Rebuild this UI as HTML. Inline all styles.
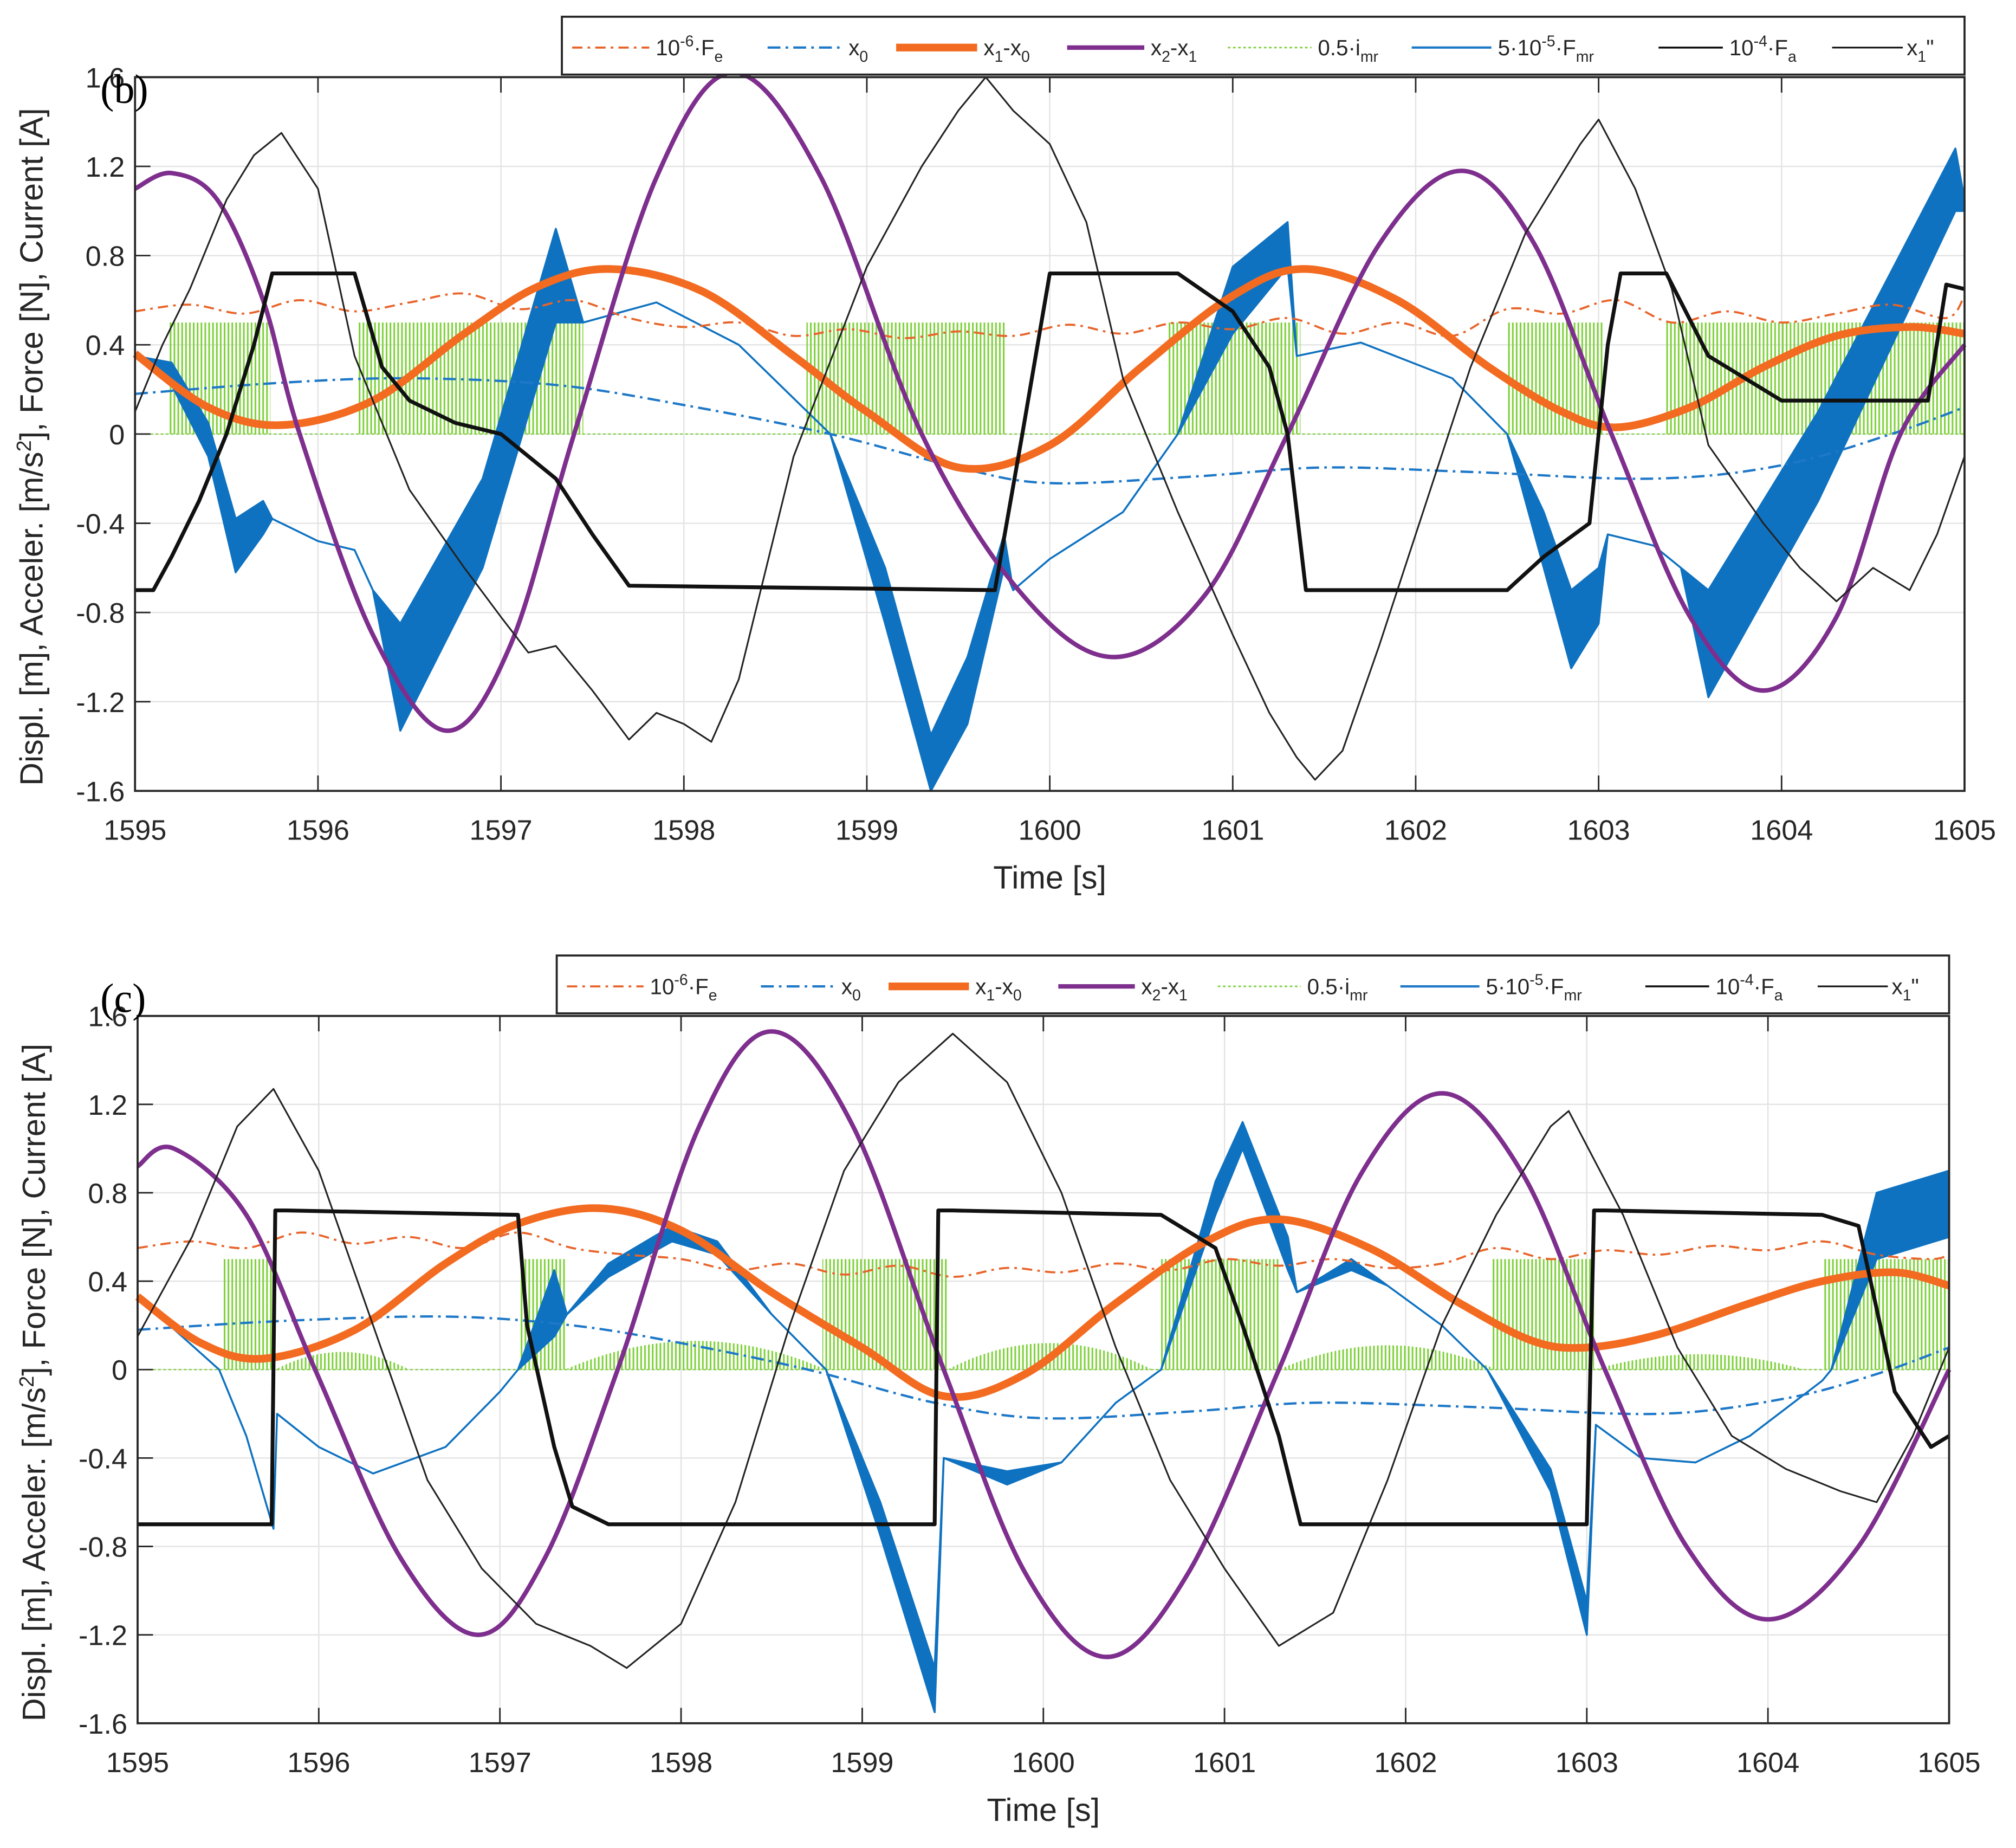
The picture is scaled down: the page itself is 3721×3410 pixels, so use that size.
<!DOCTYPE html>
<html><head><meta charset="utf-8"><style>
html,body{margin:0;padding:0;background:#fff;}
svg{display:block;}
text{font-family:"Liberation Sans",Arial,sans-serif;fill:#262626;}
</style></head><body>
<svg id="chart" xmlns="http://www.w3.org/2000/svg" width="3721" height="3410" viewBox="0 0 1568 1437">
<defs>
<pattern id="hatch" patternUnits="userSpaceOnUse" width="3" height="4">
<rect x="0" y="0" width="1.3" height="4" fill="#7fd13b"/>
</pattern>
</defs>
</svg>
<script>
// ---------- Panel (b) data ----------
const bPurpleT=[1595,1595.2,1595.45,1595.7,1595.9,1596.3,1596.7,1597.05,1597.4,1597.85,1598.27,1598.75,1599.3,1599.85,1600.35,1600.85,1601.3,1601.8,1602.25,1602.65,1603.07,1603.5,1603.9,1604.3,1604.65,1605];
const bPurpleV=[1.10,1.17,1.05,0.6,0.0,-0.9,-1.33,-0.95,0.0,1.15,1.62,1.15,0.0,-0.72,-1.0,-0.72,0.0,0.85,1.18,0.85,0.0,-0.82,-1.15,-0.82,0.0,0.4];
const bOrangeT=[1595,1595.4,1595.8,1596.3,1596.8,1597.2,1597.6,1598.1,1598.6,1599.0,1599.5,1600.0,1600.5,1601.0,1601.4,1601.9,1602.4,1602.8,1603.1,1603.5,1603.9,1604.3,1604.7,1605];
const bOrangeV=[0.36,0.12,0.04,0.15,0.45,0.66,0.74,0.64,0.35,0.1,-0.15,-0.05,0.3,0.62,0.74,0.6,0.3,0.1,0.03,0.12,0.3,0.44,0.48,0.45];
const bX0T=[1595,1595.8,1596.5,1597.3,1598.0,1598.8,1599.5,1600.0,1600.8,1601.5,1602.3,1603.3,1604.0,1604.6,1605];
const bX0V=[0.18,0.23,0.25,0.22,0.13,0.0,-0.15,-0.22,-0.19,-0.15,-0.17,-0.2,-0.14,0.0,0.12];
const bFeT=[1595,1595.3,1595.6,1595.9,1596.2,1596.5,1596.8,1597.1,1597.4,1597.7,1598.0,1598.3,1598.6,1598.9,1599.2,1599.5,1599.8,1600.1,1600.4,1600.7,1601.0,1601.3,1601.6,1601.9,1602.2,1602.5,1602.8,1603.1,1603.4,1603.7,1604.0,1604.3,1604.6,1604.9,1605];
const bFeV=[0.55,0.58,0.54,0.6,0.55,0.59,0.63,0.56,0.6,0.52,0.48,0.5,0.44,0.47,0.43,0.46,0.44,0.49,0.45,0.5,0.47,0.52,0.45,0.5,0.44,0.56,0.54,0.6,0.5,0.55,0.5,0.54,0.58,0.52,0.62];
const bImrStart=[1595.18,1596.22,1598.67,1600.64,1602.5,1603.37];
const bImrEnd=[1595.74,1597.45,1599.76,1601.37,1603.03,1605];
const bImrHigh=[0.5,0.5,0.5,0.5,0.5,0.5];
const bFaT=[1595,1595.1,1595.2,1595.35,1595.5,1595.65,1595.75,1596.2,1596.35,1596.5,1596.75,1597.0,1597.3,1597.5,1597.7,1599.7,1599.85,1600.0,1600.7,1601.0,1601.2,1601.3,1601.4,1602.5,1602.7,1602.95,1603.05,1603.12,1603.37,1603.6,1604.0,1604.8,1604.9,1605];
const bFaV=[-0.7,-0.7,-0.55,-0.3,0.0,0.4,0.72,0.72,0.3,0.15,0.05,0.0,-0.2,-0.45,-0.68,-0.7,0.0,0.72,0.72,0.55,0.3,0.0,-0.7,-0.7,-0.55,-0.4,0.4,0.72,0.72,0.35,0.15,0.15,0.67,0.65];
const bFmrT=[1595,1595.2,1595.4,1595.55,1595.7,1595.75,1596.0,1596.2,1596.3,1596.45,1596.9,1597.3,1597.45,1597.85,1598.3,1598.8,1599.1,1599.35,1599.55,1599.75,1599.8,1600.0,1600.4,1600.7,1601.0,1601.3,1601.35,1601.7,1602.2,1602.5,1602.7,1602.85,1603.0,1603.05,1603.3,1603.45,1603.6,1604.2,1604.95,1605];
const bFmrLo=[0.35,0.22,-0.1,-0.62,-0.45,-0.38,-0.48,-0.52,-0.7,-1.33,-0.6,0.5,0.5,0.59,0.4,0.0,-0.85,-1.6,-1.3,-0.6,-0.7,-0.56,-0.35,0.0,0.45,0.75,0.35,0.41,0.25,0.0,-0.6,-1.05,-0.85,-0.45,-0.5,-0.6,-1.18,-0.3,1.0,1.0];
const bFmrHi=[0.35,0.32,0.05,-0.38,-0.3,-0.38,-0.48,-0.52,-0.7,-0.85,-0.2,0.92,0.5,0.59,0.4,0.0,-0.6,-1.35,-1.0,-0.45,-0.7,-0.56,-0.35,0.0,0.75,0.95,0.35,0.41,0.25,0.0,-0.35,-0.7,-0.6,-0.45,-0.5,-0.6,-0.7,0.1,1.28,1.05];
const bAccT=[1595,1595.15,1595.3,1595.5,1595.65,1595.8,1596.0,1596.2,1596.5,1596.8,1597.0,1597.15,1597.3,1597.5,1597.7,1597.85,1598.0,1598.15,1598.3,1598.6,1599.0,1599.3,1599.5,1599.65,1599.8,1600.0,1600.2,1600.4,1600.7,1601.0,1601.2,1601.35,1601.45,1601.6,1601.8,1602.0,1602.3,1602.6,1602.9,1603.0,1603.2,1603.4,1603.6,1603.9,1604.1,1604.3,1604.5,1604.7,1604.85,1605];
const bAccV=[0.1,0.4,0.65,1.05,1.25,1.35,1.1,0.35,-0.25,-0.6,-0.82,-0.98,-0.95,-1.15,-1.37,-1.25,-1.3,-1.38,-1.1,-0.1,0.75,1.2,1.45,1.6,1.45,1.3,0.95,0.25,-0.35,-0.9,-1.25,-1.45,-1.55,-1.42,-0.95,-0.45,0.3,0.9,1.3,1.41,1.1,0.65,-0.05,-0.4,-0.6,-0.75,-0.6,-0.7,-0.45,-0.1];

// ---------- Panel (c) data ----------
const cPurpleT=[1595,1595.2,1595.6,1595.98,1596.45,1596.88,1597.25,1597.65,1598.1,1598.5,1598.95,1599.45,1599.9,1600.35,1600.8,1601.3,1601.75,1602.2,1602.65,1603.1,1603.55,1604.0,1604.5,1605];
const cPurpleV=[0.92,1.0,0.7,0.0,-0.85,-1.2,-0.85,0.0,1.1,1.53,1.1,0.0,-0.92,-1.3,-0.92,0.0,0.88,1.25,0.88,0.0,-0.8,-1.13,-0.8,0.0];
const cOrangeT=[1595,1595.35,1595.7,1596.2,1596.7,1597.1,1597.55,1598.0,1598.5,1599.0,1599.45,1599.9,1600.4,1600.9,1601.3,1601.8,1602.3,1602.7,1603.0,1603.4,1603.9,1604.3,1604.7,1605];
const cOrangeV=[0.33,0.12,0.05,0.18,0.48,0.66,0.73,0.63,0.35,0.1,-0.12,-0.02,0.3,0.58,0.68,0.55,0.3,0.13,0.1,0.16,0.3,0.4,0.44,0.38];
const cX0T=[1595,1595.8,1596.7,1597.4,1598.0,1598.7,1599.4,1600.0,1600.8,1601.5,1602.4,1603.4,1604.1,1604.6,1605];
const cX0V=[0.18,0.22,0.24,0.2,0.12,0.0,-0.15,-0.22,-0.19,-0.15,-0.17,-0.2,-0.13,-0.02,0.1];
const cFeT=[1595,1595.3,1595.6,1595.9,1596.2,1596.5,1596.8,1597.1,1597.4,1597.7,1598.0,1598.3,1598.6,1598.9,1599.2,1599.5,1599.8,1600.1,1600.4,1600.7,1601.0,1601.3,1601.6,1601.9,1602.2,1602.5,1602.8,1603.1,1603.4,1603.7,1604.0,1604.3,1604.6,1604.9,1605];
const cFeV=[0.55,0.58,0.55,0.62,0.57,0.6,0.55,0.62,0.55,0.52,0.5,0.45,0.48,0.43,0.47,0.42,0.46,0.44,0.48,0.45,0.5,0.47,0.5,0.46,0.48,0.55,0.5,0.54,0.52,0.56,0.54,0.58,0.52,0.5,0.52];
const cImrStart=[1595.47,1597.11,1598.78,1600.65,1602.47,1604.31];
const cImrEnd=[1595.76,1597.36,1599.47,1601.3,1603.04,1605];
const cImrHigh=[0.5,0.5,0.5,0.5,0.5,0.5];
const cHumpStart=[1595.76,1597.36,1599.47,1601.3,1603.04];
const cHumpEnd=[1596.5,1598.8,1600.6,1602.5,1604.2];
const cHumpHigh=[0.08,0.13,0.12,0.11,0.07];
const cFaT=[1595,1595.74,1595.76,1595.82,1597.1,1597.15,1597.3,1597.4,1597.6,1599.4,1599.42,1599.5,1600.65,1600.95,1601.1,1601.3,1601.42,1603.0,1603.04,1603.1,1604.3,1604.5,1604.7,1604.9,1605];
const cFaV=[-0.7,-0.7,0.72,0.72,0.7,0.2,-0.35,-0.62,-0.7,-0.7,0.72,0.72,0.7,0.55,0.2,-0.3,-0.7,-0.7,0.72,0.72,0.7,0.65,-0.1,-0.35,-0.3];
const cFmrT=[1595,1595.45,1595.6,1595.75,1595.77,1596.0,1596.3,1596.7,1597.0,1597.1,1597.3,1597.37,1597.6,1597.95,1598.2,1598.5,1598.8,1599.1,1599.4,1599.45,1599.8,1600.1,1600.4,1600.65,1600.95,1601.1,1601.35,1601.4,1601.7,1601.9,1602.2,1602.45,1602.8,1603.0,1603.05,1603.3,1603.6,1603.9,1604.3,1604.35,1604.6,1605];
const cFmrLo=[0.33,0.0,-0.3,-0.72,-0.2,-0.35,-0.47,-0.35,-0.1,0.0,0.15,0.25,0.42,0.58,0.52,0.25,0.0,-0.75,-1.55,-0.4,-0.52,-0.42,-0.15,0.0,0.7,1.0,0.45,0.35,0.45,0.38,0.2,0.0,-0.55,-1.2,-0.25,-0.4,-0.42,-0.3,-0.05,0.0,0.5,0.6];
const cFmrHi=[0.33,0.0,-0.3,-0.72,-0.2,-0.35,-0.47,-0.35,-0.1,0.0,0.45,0.25,0.48,0.65,0.58,0.25,0.0,-0.6,-1.35,-0.4,-0.46,-0.42,-0.15,0.0,0.85,1.12,0.6,0.35,0.5,0.38,0.2,0.0,-0.45,-1.05,-0.25,-0.4,-0.42,-0.3,-0.05,0.0,0.8,0.9];
const cAccT=[1595,1595.3,1595.55,1595.75,1596.0,1596.3,1596.6,1596.9,1597.2,1597.5,1597.7,1598.0,1598.3,1598.6,1598.9,1599.2,1599.5,1599.8,1600.1,1600.4,1600.7,1601.0,1601.3,1601.6,1601.9,1602.2,1602.5,1602.8,1602.9,1603.2,1603.5,1603.8,1604.1,1604.4,1604.6,1604.8,1605];
const cAccV=[0.15,0.6,1.1,1.27,0.9,0.2,-0.5,-0.9,-1.15,-1.25,-1.35,-1.15,-0.6,0.2,0.9,1.3,1.52,1.3,0.8,0.1,-0.5,-0.9,-1.25,-1.1,-0.5,0.2,0.7,1.1,1.17,0.7,0.1,-0.3,-0.45,-0.55,-0.6,-0.3,0.1];

const yTicks=[1.6,1.2,0.8,0.4,0,-0.4,-0.8,-1.2,-1.6];
const yTickLabels=["1.6","1.2","0.8","0.4","0","-0.4","-0.8","-1.2","-1.6"];
const xTicks=[1595,1596,1597,1598,1599,1600,1601,1602,1603,1604,1605];

const NS="http://www.w3.org/2000/svg";
const svg=document.getElementById('chart');
function mk(tag,attrs,parent){const e=document.createElementNS(NS,tag);for(const k in attrs)e.setAttribute(k,attrs[k]);(parent||svg).appendChild(e);return e;}

function smoothPath(pts){
  let d="M"+pts[0][0]+","+pts[0][1];
  for(let i=0;i<pts.length-1;i++){
    const p0=pts[Math.max(0,i-1)],p1=pts[i],p2=pts[i+1],p3=pts[Math.min(pts.length-1,i+2)];
    const c1x=p1[0]+(p2[0]-p0[0])/6,c1y=p1[1]+(p2[1]-p0[1])/6;
    const c2x=p2[0]-(p3[0]-p1[0])/6,c2y=p2[1]-(p3[1]-p1[1])/6;
    d+=" C"+c1x+","+c1y+" "+c2x+","+c2y+" "+p2[0]+","+p2[1];
  }
  return d;
}

function drawPanel(P){
  const sx=t=>P.x0+(t-1595)/10*(P.x1-P.x0);
  const sy=v=>P.y0+(1.6-v)/3.2*(P.y1-P.y0);
  const g=mk('g',{});
  
  
  // grid
  xTicks.forEach(t=>{const l=mk('line',{x1:sx(t),x2:sx(t),y1:P.y0,y2:P.y1,stroke:'#e3e3e3','stroke-width':1},g);
    });
  yTicks.forEach(v=>{const l=mk('line',{x1:P.x0,x2:P.x1,y1:sy(v),y2:sy(v),stroke:'#e3e3e3','stroke-width':1},g);
    });
  // imr blocks
  P.imrS.forEach((s,i)=>{const r=mk('rect',{x:sx(s),y:sy(P.imrH[i]),width:sx(P.imrE[i])-sx(s),height:sy(0)-sy(P.imrH[i]),fill:'url(#hatch)'},g);
    });
  if(P.humpS){P.humpS.forEach((s,i)=>{const e=P.humpE[i],m=(s+e)/2;
    const p=mk('path',{d:`M${sx(s)},${sy(0)} Q${sx(m)},${sy(P.humpH[i]*2)} ${sx(e)},${sy(0)} Z`,fill:'url(#hatch)'},g);
    });}
  const zl=mk('line',{x1:P.x0,x2:P.x1,y1:sy(0),y2:sy(0),stroke:'#7fd13b','stroke-width':1,'stroke-dasharray':'2,2'},g);
  
  function curve(T,V,attrs,name,smooth){
    const pts=T.map((t,i)=>[sx(t),sy(V[i])]);
    const d=smooth?smoothPath(pts):"M"+pts.map(p=>p.join(",")).join(" L");
    const p=mk('path',Object.assign({d:d,fill:'none','stroke-linejoin':'round'},attrs),g);
    
  }
  // Fmr band
  const up=P.fmrT.map((t,i)=>[sx(t),sy(P.fmrHi[i])]);
  const lo=P.fmrT.map((t,i)=>[sx(t),sy(P.fmrLo[i])]).reverse();
  const band=mk('path',{d:"M"+up.concat(lo).map(p=>p.join(",")).join(" L")+"Z",fill:'#0f72c0',stroke:'#0f72c0','stroke-width':1.5,'stroke-linejoin':'round'},g);
  
  curve(P.x0T,P.x0V,{stroke:'#1e78c8','stroke-width':1.8,'stroke-dasharray':'10,4,2,4'},'x0-series',true);
  curve(P.feT,P.feV,{stroke:'#e8642a','stroke-width':1.6,'stroke-dasharray':'8,4,2,4'},'fe-series',true);
  curve(P.orT,P.orV,{stroke:'#f26b21','stroke-width':6},'x1-x0-series',true);
  curve(P.puT,P.puV,{stroke:'#7e2f8e','stroke-width':3.5},'x2-x1-series',true);
  curve(P.accT,P.accV,{stroke:'#222','stroke-width':1.3},'x1-accel-series',false);
  curve(P.faT,P.faV,{stroke:'#111','stroke-width':3},'fa-series',false);
  // axes box
  const box=mk('rect',{x:P.x0,y:P.y0,width:P.x1-P.x0,height:P.y1-P.y0,fill:'none',stroke:'#262626','stroke-width':1.6},g);
  
  yTicks.forEach((v,i)=>{
    mk('line',{x1:P.x0,x2:P.x0+12,y1:sy(v),y2:sy(v),stroke:'#262626','stroke-width':1.2},g);
    const t=mk('text',{x:P.x0-8,y:sy(v)+8,'text-anchor':'end','font-size':22},g);t.textContent=yTickLabels[i];
    
  });
  xTicks.forEach(v=>{
    mk('line',{x1:sx(v),x2:sx(v),y1:P.y1,y2:P.y1-12,stroke:'#262626','stroke-width':1.2},g);
    mk('line',{x1:sx(v),x2:sx(v),y1:P.y0,y2:P.y0+12,stroke:'#262626','stroke-width':1.2},g);
    const t=mk('text',{x:sx(v),y:P.y1+38,'text-anchor':'middle','font-size':22},g);t.textContent=v;
    
  });
  const xt=mk('text',{x:(P.x0+P.x1)/2,y:P.y1+76,'text-anchor':'middle','font-size':25},g);xt.textContent='Time [s]';
  
  const yt=mk('text',{x:0,y:0,'text-anchor':'middle','font-size':25,transform:`translate(${P.x0-72},${(P.y0+P.y1)/2+10}) rotate(-90)`},g);
  yt.innerHTML='Displ. [m], Acceler. [m/s<tspan font-size="16" dy="-9">2</tspan><tspan dy="9">], Force [N], Current [A]</tspan>';
  
  const lb=mk('text',{x:P.lx,y:P.ly,'font-size':32,style:'font-family:"Liberation Serif",serif;fill:#000'},g);lb.textContent=P.label;
  
  // legend
  const L=mk('g',{},g);
  mk('rect',{x:P.lgx0,y:P.lgy0,width:P.lgx1-P.lgx0,height:45,fill:'#fff',stroke:'#262626','stroke-width':1.6},L);
  const s=(P.lgx1-P.lgx0)/1091;
  const yy=P.lgy0+24;
  const ents=[
    [8,68,{stroke:'#e8642a','stroke-width':1.6,'stroke-dasharray':'8,4,2,4'},73,'10<tspan font-size="12" dy="-7">-6</tspan><tspan dy="7">·F</tspan><tspan font-size="12" dy="5">e</tspan>'],
    [160,218,{stroke:'#1e78c8','stroke-width':1.8,'stroke-dasharray':'10,4,2,4'},223,'x<tspan font-size="12" dy="5">0</tspan>'],
    [260,323,{stroke:'#f26b21','stroke-width':6},328,'x<tspan font-size="12" dy="5">1</tspan><tspan dy="-5">-x</tspan><tspan font-size="12" dy="5">0</tspan>'],
    [393,453,{stroke:'#7e2f8e','stroke-width':3.5},458,'x<tspan font-size="12" dy="5">2</tspan><tspan dy="-5">-x</tspan><tspan font-size="12" dy="5">1</tspan>'],
    [518,583,{stroke:'#7fd13b','stroke-width':1.2,'stroke-dasharray':'2,2'},588,'0.5·i<tspan font-size="12" dy="5">mr</tspan>'],
    [661,723,{stroke:'#1e78c8','stroke-width':1.8},728,'5·10<tspan font-size="12" dy="-7">-5</tspan><tspan dy="7">·F</tspan><tspan font-size="12" dy="5">mr</tspan>'],
    [853,903,{stroke:'#111','stroke-width':1.5},908,'10<tspan font-size="12" dy="-7">-4</tspan><tspan dy="7">·F</tspan><tspan font-size="12" dy="5">a</tspan>'],
    [988,1043,{stroke:'#111','stroke-width':1.3},1046,'x<tspan font-size="12" dy="5">1</tspan><tspan dy="-5">"</tspan>']
  ];
  ents.forEach(e=>{
    const l=mk('line',Object.assign({x1:P.lgx0+e[0]*s,x2:P.lgx0+e[1]*s,y1:yy,y2:yy},e[2]),L);
    
    const t=mk('text',{x:P.lgx0+e[3]*s,y:yy+6,'font-size':17},L);t.innerHTML=e[4];
    
  });
}

drawPanel({name:'panel-b',x0:105,x1:1528,y0:60,y1:615,lx:78,ly:80,label:'(b)',lgx0:437,lgx1:1528,lgy0:13,
  puT:bPurpleT,puV:bPurpleV,orT:bOrangeT,orV:bOrangeV,x0T:bX0T,x0V:bX0V,feT:bFeT,feV:bFeV,
  imrS:bImrStart,imrE:bImrEnd,imrH:bImrHigh,faT:bFaT,faV:bFaV,fmrT:bFmrT,fmrLo:bFmrLo,fmrHi:bFmrHi,accT:bAccT,accV:bAccV});
drawPanel({name:'panel-c',x0:107,x1:1516,y0:790,y1:1340,lx:78,ly:787,label:'(c)',lgx0:433,lgx1:1516,lgy0:743,
  puT:cPurpleT,puV:cPurpleV,orT:cOrangeT,orV:cOrangeV,x0T:cX0T,x0V:cX0V,feT:cFeT,feV:cFeV,
  imrS:cImrStart,imrE:cImrEnd,imrH:cImrHigh,humpS:cHumpStart,humpE:cHumpEnd,humpH:cHumpHigh,
  faT:cFaT,faV:cFaV,fmrT:cFmrT,fmrLo:cFmrLo,fmrHi:cFmrHi,accT:cAccT,accV:cAccV});
</script>
</body></html>
